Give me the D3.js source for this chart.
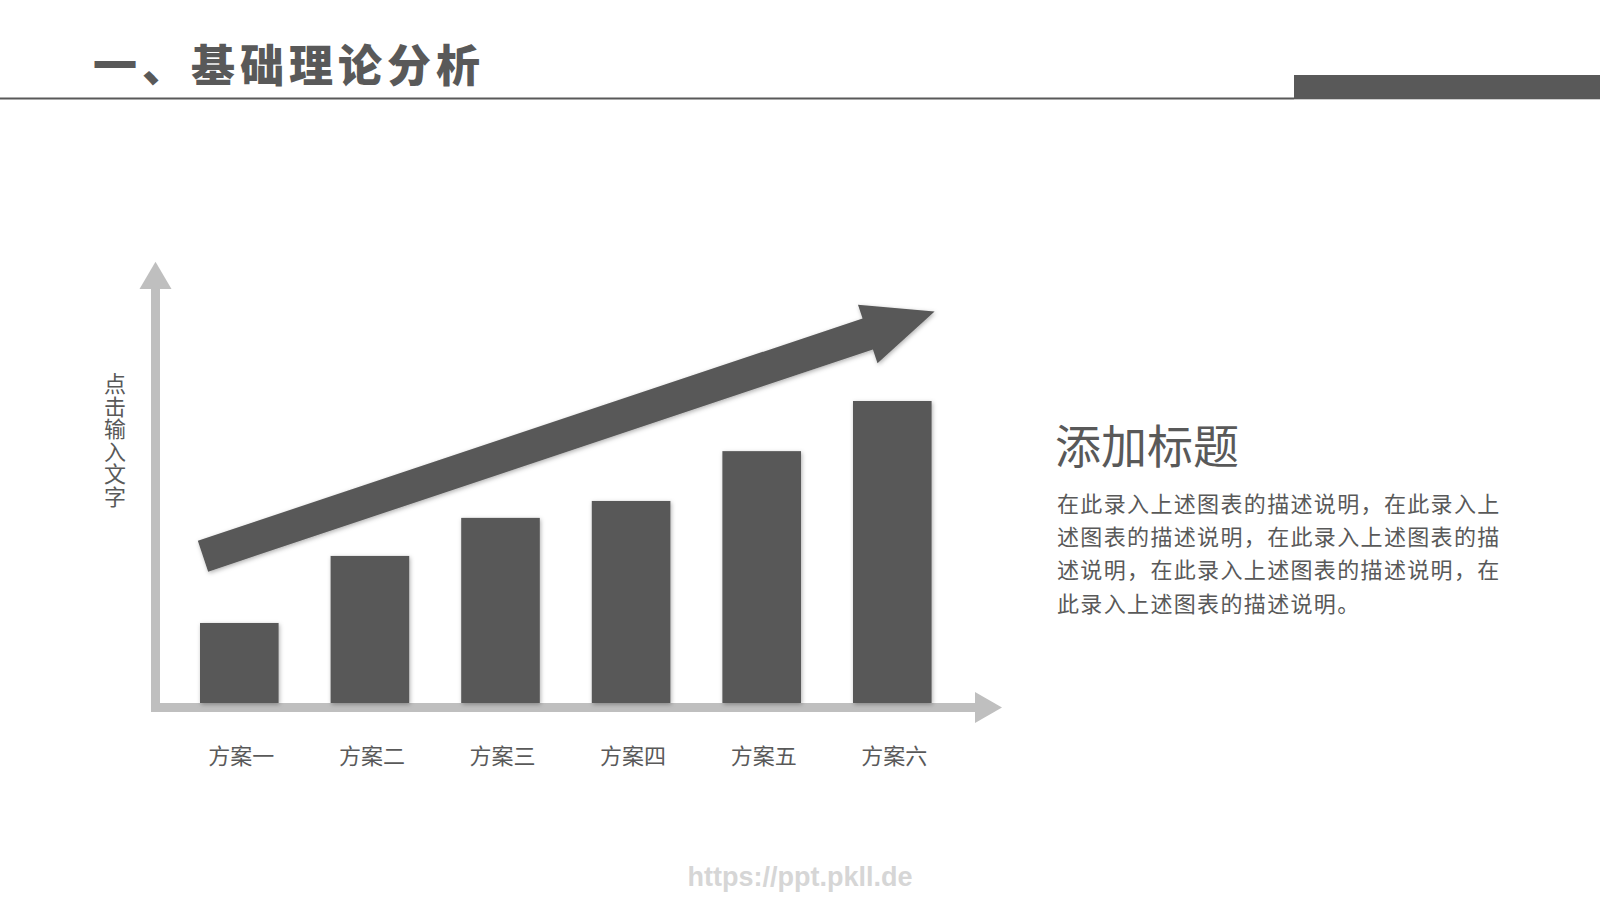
<!DOCTYPE html>
<html><head><meta charset="utf-8">
<script src="https://cdn.jsdelivr.net/npm/d3@7"></script>
<style>
html,body{margin:0;padding:0;background:#fff;}
svg{display:block;}
</style></head>
<body>
<script>
// ---- data ----
const categories = ["方案一","方案二","方案三","方案四","方案五","方案六"];
const values = [26.5, 48.7, 61.3, 66.9, 83.4, 100];
const trendStart = 48.6;   // trend arrow tail level (value units)
const trendEnd = 129.6;    // trend arrow tip level (value units)
const pageTitle = "一、基础理论分析";
const yAxisLabel = "点击输入文字";
const sideTitle = "添加标题";
const sideLines = [
  "在此录入上述图表的描述说明，在此录入上",
  "述图表的描述说明，在此录入上述图表的描",
  "述说明，在此录入上述图表的描述说明，在",
  "此录入上述图表的描述说明。"
];
const watermark = "https://ppt.pkll.de";

// ---- layout ----
const W = 1600, H = 900;
const dark = "#595959", axisGray = "#bfbfbf";
const cjk = "'Noto Sans CJK SC','Noto Sans',sans-serif";

const svg = d3.select("body").append("svg").attr("width", W).attr("height", H);

const defs = svg.append("defs");
const f = defs.append("filter").attr("id","shadow").attr("x","-10%").attr("y","-10%").attr("width","130%").attr("height","130%");
f.append("feDropShadow").attr("dx",1).attr("dy",1.5).attr("stdDeviation",2.2)
  .attr("flood-color","#000").attr("flood-opacity",0.3);

// header
svg.append("text").attr("x", 93).attr("y", 63).attr("dominant-baseline","central")
  .attr("font-family", cjk).attr("font-weight", 900).attr("font-size", 44)
  .attr("letter-spacing", 5).attr("fill", dark).text(pageTitle);
svg.append("rect").attr("x",0).attr("y",97.5).attr("width",1294).attr("height",2).attr("fill",dark);
svg.append("rect").attr("x",1294).attr("y",75).attr("width",W-1294).attr("height",24.3).attr("fill",dark);

// scales
const x = d3.scaleBand().domain(categories).range([200, 931.6]).paddingInner(0.398).paddingOuter(0);
const y = d3.scaleLinear().domain([0, 100]).range([703, 401]);

const ox = 151, axisW = 9;
const base = y(0);

// y axis (arrow)
svg.append("rect").attr("x", ox).attr("y", 288).attr("width", axisW).attr("height", base + axisW - 288).attr("fill", axisGray);
svg.append("path").attr("fill", axisGray)
  .attr("d", d3.line()([[ox + axisW/2 - 16, 289],[ox + axisW/2, 261.7],[ox + axisW/2 + 16, 289]]) + "Z");
// x axis (arrow)
svg.append("rect").attr("x", ox).attr("y", base).attr("width", 975 - ox + 1).attr("height", axisW).attr("fill", axisGray);
svg.append("path").attr("fill", axisGray)
  .attr("d", d3.line()([[975, base + axisW/2 - 15.5],[1002, base + axisW/2],[975, base + axisW/2 + 15.5]]) + "Z");

// bars
svg.append("g").selectAll("rect").data(values).join("rect")
  .attr("x", (d,i) => x(categories[i]))
  .attr("y", d => y(d))
  .attr("width", x.bandwidth())
  .attr("height", d => base - y(d))
  .attr("fill", dark)
  .attr("filter","url(#shadow)");

// category labels
svg.append("g").selectAll("text").data(categories).join("text")
  .attr("x", d => x(d) + x.bandwidth()/2 + 2)
  .attr("y", 754)
  .attr("text-anchor","middle").attr("dominant-baseline","central")
  .attr("font-family", cjk).attr("font-size", 22).attr("fill", dark)
  .text(d => d);

// y-axis label (vertical, upright characters)
svg.append("text")
  .attr("x", 115).attr("y", 373)
  .attr("font-family", cjk).attr("font-size", 22).attr("fill", dark)
  .attr("letter-spacing", 0.5)
  .style("writing-mode", "vertical-rl").style("text-orientation", "upright")
  .text(yAxisLabel);

// trend arrow
(function(){
  const p0 = [x(categories[0]) + 3, y(trendStart)];
  const p1 = [x(categories[categories.length-1]) + x.bandwidth() + 3, y(trendEnd)];
  const dx = p1[0]-p0[0], dy = p1[1]-p0[1];
  const L = Math.hypot(dx, dy);
  const u = [dx/L, dy/L], n = [-u[1], u[0]];
  const h = 16.3, hl = 70.5, hw = 30.8;
  const pt = (a, b) => [p0[0] + u[0]*a + n[0]*b, p0[1] + u[1]*a + n[1]*b];
  const pts = [pt(0,-h), pt(L-hl,-h), pt(L-hl,-hw), pt(L,0), pt(L-hl,hw), pt(L-hl,h), pt(0,h)];
  svg.append("path").attr("d", d3.line()(pts) + "Z").attr("fill", dark).attr("filter","url(#shadow)");
})();

// side text
svg.append("text").attr("x", 1055).attr("y", 443).attr("dominant-baseline","central")
  .attr("font-family", cjk).attr("font-size", 46).attr("fill", dark).text(sideTitle);
svg.append("g").selectAll("text").data(sideLines).join("text")
  .attr("x", 1057).attr("y", (d,i) => 502 + i*33.2)
  .attr("dominant-baseline","central")
  .attr("font-family", cjk).attr("font-size", 22).attr("letter-spacing", 1.35).attr("fill", dark)
  .text(d => d);

// watermark
svg.append("text").attr("x", 800).attr("y", 877).attr("text-anchor","middle").attr("dominant-baseline","central")
  .attr("font-family","'Liberation Sans',sans-serif").attr("font-weight",700).attr("font-size",27)
  .attr("fill","#d6d6d6").text(watermark);
</script>
</body></html>
